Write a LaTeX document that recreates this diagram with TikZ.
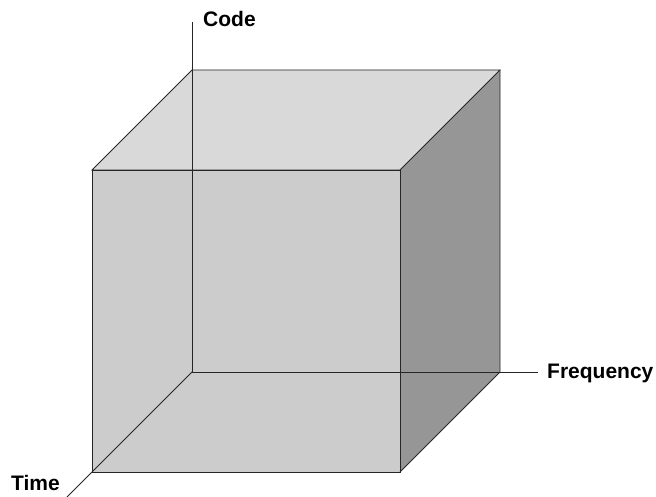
\documentclass[tikz,border=0pt]{standalone}
\usepackage{fontspec}
\setmainfont{Liberation Sans}
\begin{document}
\begin{tikzpicture}[x=1pt,y=-1pt,
  edge/.style={draw=black!85,line width=0.9pt,line join=miter},
  axislabel/.style={font=\fontsize{21}{25}\selectfont\bfseries,inner sep=0pt},
  topface/.style={fill=black!15},
  frontface/.style={fill=black!20},
  sideface/.style={fill=black!41}]
\useasboundingbox (0,0) rectangle (656,497);
% cube corners
\coordinate (O)   at (192,372);
\coordinate (BTL) at (192,70);
\coordinate (BTR) at (500,70);
\coordinate (BBR) at (500,372);
\coordinate (FTL) at (92,170);
\coordinate (FTR) at (400,170);
\coordinate (FBR) at (400,472);
\coordinate (FBL) at (92,472);
% axis ends
\coordinate (codeEnd) at (192,22);
\coordinate (freqEnd) at (538,372);
\coordinate (timeEnd) at (67,497);
% faces
\fill[topface] (FTL) -- (BTL) -- (BTR) -- (FTR) -- cycle;
\fill[frontface] (FTL) -- (FTR) -- (FBR) -- (FBL) -- cycle;
\fill[sideface] (FTR) -- (BTR) -- (BBR) -- (FBR) -- cycle;
% axes
\draw[edge] (codeEnd) -- (O);
\draw[edge] (O) -- (freqEnd);
\draw[edge] (O) -- (timeEnd);
% visible edges
\draw[edge] (FTL) -- (BTL) -- (BTR) -- (FTR) -- cycle;
\draw[edge] (FTL) -- (FTR) -- (FBR) -- (FBL) -- cycle;
\draw[edge] (BTR) -- (BBR) -- (FBR);
% labels
\node[axislabel,anchor=base west] (code) at (203,27) {Code};
\node[axislabel,anchor=base west] (freq) at (547,378) {Frequency};
\node[axislabel,anchor=base west] (time) at (11,490) {Time};
\end{tikzpicture}
\end{document}
